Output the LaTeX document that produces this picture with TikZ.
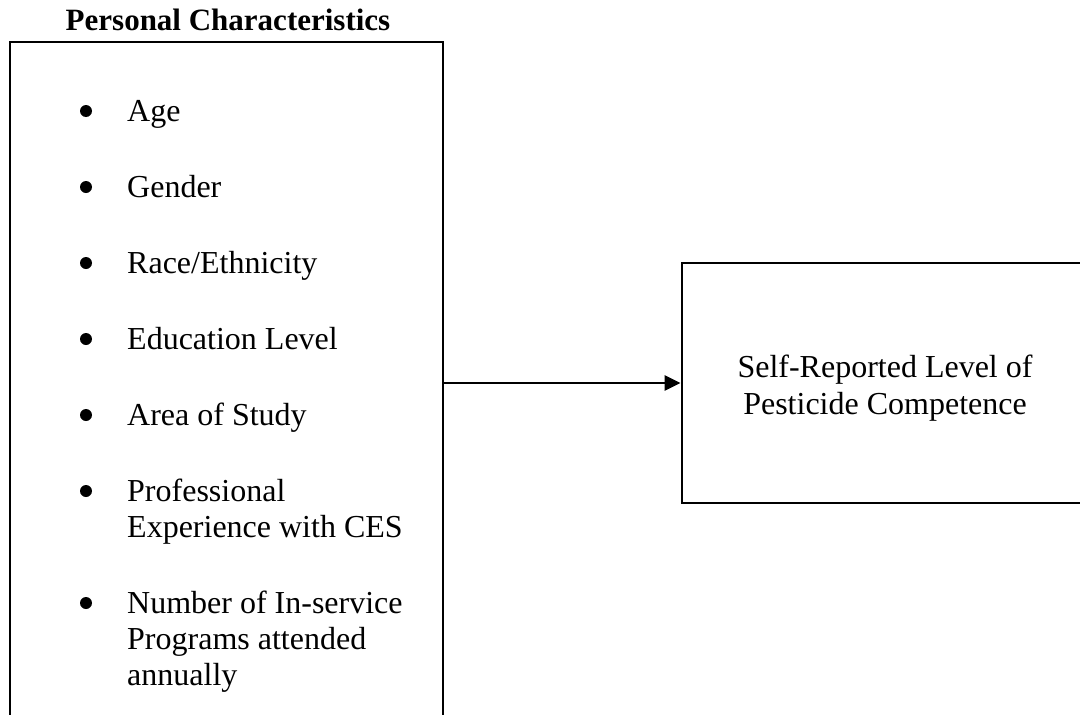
\documentclass[tikz,border=0pt]{standalone}
\usepackage{fontspec}
\setmainfont{Liberation Serif}
\usetikzlibrary{arrows.meta}
\begin{document}
\begin{tikzpicture}[x=1pt,y=-1pt,
  frame/.style={draw=black,line width=2.8pt,inner sep=0pt,rectangle},
  titletext/.style={anchor=base,inner sep=0pt,font=\fontsize{31}{35}\selectfont\bfseries},
  itemtext/.style={anchor=base west,inner sep=0pt,font=\fontsize{32}{37}\selectfont},
  boxtext/.style={anchor=base,inner sep=0pt,font=\fontsize{32}{37}\selectfont},
  dot/.style={circle,fill=black,inner sep=0pt,minimum size=12pt},
  link/.style={line width=2.8pt,-{Triangle[length=16pt,width=15pt]}},
]
\useasboundingbox (0,0) rectangle (1080,715);
\clip (0,0) rectangle (1080,715);
% boxes
\node[frame,minimum width=433pt,minimum height=682pt] (leftbox) at (226.5,383) {};
\node[frame,minimum width=406pt,minimum height=240pt] (rightbox) at (885,383) {};
% title
\node[titletext] (title) at (228,30) {Personal Characteristics};
% bullets and items
\node[dot] (b1) at (86,111) {};
\node[itemtext] (i1) at (127,121) {Age};
\node[dot] (b2) at (86,187) {};
\node[itemtext] (i2) at (127,197) {Gender};
\node[dot] (b3) at (86,263) {};
\node[itemtext] (i3) at (127,273) {Race/Ethnicity};
\node[dot] (b4) at (86,339) {};
\node[itemtext] (i4) at (127,349) {Education Level};
\node[dot] (b5) at (86,415) {};
\node[itemtext] (i5) at (127,425) {Area of Study};
\node[dot] (b6) at (86,491) {};
\node[itemtext] (i6a) at (127,501) {Professional};
\node[itemtext] (i6b) at (127,537) {Experience with CES};
\node[dot] (b7) at (86,603) {};
\node[itemtext] (i7a) at (127,613) {Number of In-service};
\node[itemtext] (i7b) at (127,649) {Programs attended};
\node[itemtext] (i7c) at (127,685) {annually};
% right box text
\node[boxtext] (r1) at (885,377) {Self-Reported Level of};
\node[boxtext] (r2) at (885,414) {Pesticide Competence};
% connector
\draw[link] (leftbox.east) -- (rightbox.west);
\end{tikzpicture}
\end{document}
